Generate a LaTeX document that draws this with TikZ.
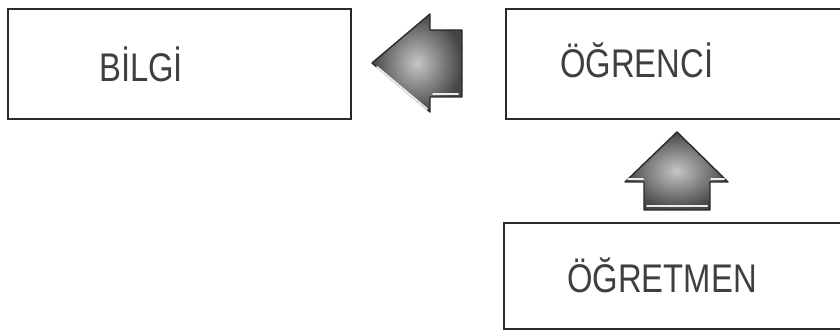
\documentclass[tikz,border=0pt]{standalone}
\usepackage{fontspec}
\newfontfamily\labfont[FakeStretch=0.82]{Liberation Sans}
\definecolor{ink}{HTML}{2A2A2A}
\tikzset{
  boxnode/.style={draw=ink, line width=2.2pt, minimum width=#1, inner sep=0pt, anchor=north west},
  labnode/.style={inner sep=0pt, anchor=base west, text=ink!90, font=\labfont\fontsize{40}{44}\selectfont},
  blockarrow/.style={draw=ink, line width=1.4pt, line join=round, inner color=gray!45, outer color=gray!55!black},
  edgelight/.style={draw=white!85!gray, line width=2pt, line cap=round}
}
\begin{document}
\begin{tikzpicture}[x=1pt,y=-1pt]
\useasboundingbox (0,0) rectangle (840,336);
% boxes
\node[boxnode=343pt, minimum height=110pt] (bilgi) at (7,8) {};
\node[boxnode=345pt, minimum height=110pt] (ogrenci) at (505,8) {};
\node[boxnode=345pt, minimum height=106pt] (ogretmen) at (503,222) {};
% labels
\node[labnode] (tbilgi) at (99,82) {BİLGİ};
\node[labnode] (togrenci) at (560,78) {ÖĞRENCİ};
\node[labnode] (togretmen) at (567,293) {ÖĞRETMEN};
% left block arrow (from ÖĞRENCİ to BİLGİ)
\path[blockarrow] (372,63) -- (430,14) -- (430,30) -- (462,30) -- (462,97)
  -- (430,97) -- (430,112) -- cycle;
\draw[edgelight] (377,67) -- (427,109);
\draw[edgelight] (433,94) -- (458,94);
% up block arrow (from ÖĞRETMEN to ÖĞRENCİ)
\path[blockarrow] (677,132) -- (728,182) -- (710,182) -- (710,210) -- (644,210)
  -- (644,182) -- (625,182) -- cycle;
\draw[edgelight] (628,179) -- (643,179);
\draw[edgelight] (711,179) -- (724,179);
\draw[edgelight] (647,206) -- (707,206);
\end{tikzpicture}
\end{document}
